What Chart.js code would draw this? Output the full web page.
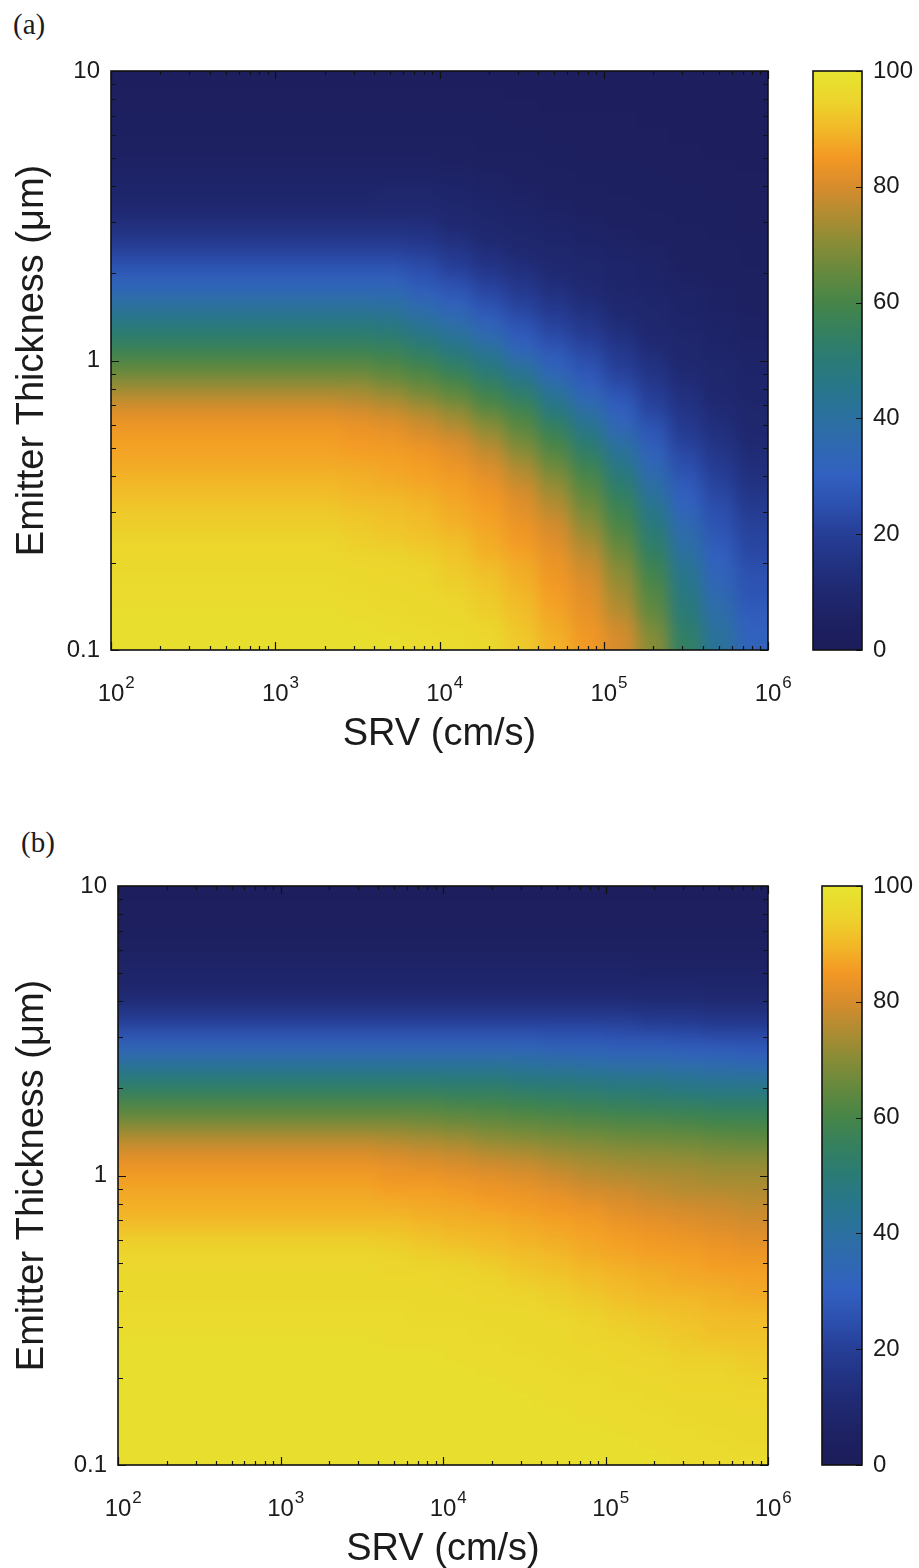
<!DOCTYPE html>
<html>
<head>
<meta charset="utf-8">
<script src="https://cdn.jsdelivr.net/npm/chart.js@4.4.1/dist/chart.umd.min.js"></script>
<style>
  html, body { margin: 0; padding: 0; background: #fff; }
  body { width: 919px; height: 1568px; position: relative; overflow: hidden; }
  canvas { position: absolute; }
  .tag { position: absolute; font-family: "Liberation Serif", "DejaVu Serif", serif; font-size: 29px; color: #1b1b1b; }
</style>
</head>
<body>
<div class="tag" style="left:13px; top:8px;">(a)</div>
<div class="tag" style="left:21px; top:826px;">(b)</div>
<canvas id="mapA" width="800" height="760" style="left:0; top:0;"></canvas>
<canvas id="barA" width="119" height="700" style="left:800px; top:0;"></canvas>
<canvas id="mapB" width="800" height="760" style="left:0; top:815px;"></canvas>
<canvas id="barB" width="119" height="700" style="left:800px; top:815px;"></canvas>
<script>
// SRV (cm/s) at the centre of each map column
const srvCentres = [126, 200, 316, 501, 794, 1259, 1995, 3162, 5012, 7943,
  12589, 19953, 31623, 50119, 79433, 125893, 199526, 316228, 501187, 794328];
// emitter thickness (um) at the centre of each map row, top to bottom
const thickCentres = [9.44, 8.41, 7.50, 6.68, 5.96, 5.31, 4.73, 4.22, 3.76, 3.35,
  2.99, 2.66, 2.37, 2.11, 1.88, 1.68, 1.50, 1.33, 1.19, 1.06,
  0.944, 0.841, 0.750, 0.668, 0.596, 0.531, 0.473, 0.422, 0.376, 0.335,
  0.299, 0.266, 0.237, 0.211, 0.188, 0.168, 0.150, 0.133, 0.119, 0.106];

const xTickValues = [1e2, 1e3, 1e4, 1e5, 1e6];
const yTickValues = [0.1, 1, 10];
const barTickValues = [0, 20, 40, 60, 80, 100];

// panel (a): one array per SRV column, values from thick (top) to thin (bottom)
const mapA = [
  [2,3,3,4,4,5,6,7,8,10,13,17,21,26,31,36,42,48,53,58,64,70,76,81,84,86,87,88,90,91,93,94,95,96,96,97,97,98,98,98],
  [2,3,3,4,4,5,6,7,8,10,13,17,21,26,31,36,42,48,53,58,64,70,76,81,84,86,87,88,90,91,93,94,95,96,96,97,97,98,98,98],
  [2,3,3,4,4,5,6,7,8,10,13,17,21,26,31,36,42,48,53,58,64,70,76,81,84,86,87,88,90,91,93,94,95,96,96,97,97,98,98,98],
  [2,3,3,4,4,5,6,7,8,10,13,17,21,26,31,36,42,48,53,58,64,70,76,81,84,86,87,88,90,91,93,94,95,96,96,97,97,98,98,98],
  [2,3,3,4,4,5,6,7,8,10,13,17,21,26,31,36,42,48,53,58,64,70,76,81,84,86,87,88,90,91,93,94,95,96,96,97,97,98,98,98],
  [2,3,3,4,4,5,6,7,8,10,13,17,21,26,31,36,42,48,53,58,64,70,76,81,84,86,87,88,90,91,93,94,95,96,96,97,97,98,98,98],
  [2,3,3,4,4,5,6,7,8,10,13,17,21,26,31,36,42,48,53,58,64,70,76,81,84,86,87,88,90,91,93,94,95,96,96,97,97,98,98,98],
  [2,3,3,4,4,5,6,7,8,10,13,17,21,26,31,36,42,48,53,58,64,70,75,80,83,85,86,88,89,90,92,93,94,95,96,96,97,97,98,98],
  [2,3,3,4,4,5,6,7,9,10,13,17,21,26,31,36,41,47,52,57,62,67,73,78,82,84,86,87,88,90,91,92,93,95,95,96,96,97,97,98],
  [2,3,3,4,4,5,6,7,9,10,13,16,20,24,27,32,37,42,48,53,59,64,69,75,79,82,85,86,87,89,90,91,92,94,95,95,96,96,97,97],
  [2,3,3,4,4,5,5,7,8,9,10,13,17,20,24,28,33,38,43,48,54,60,65,71,75,80,82,84,86,87,88,89,91,92,93,94,95,96,96,97],
  [2,3,3,4,4,4,5,6,7,8,9,10,13,16,20,23,27,32,37,43,48,54,59,64,70,74,78,81,83,85,86,87,88,89,91,92,93,94,95,96],
  [2,2,3,3,4,4,5,5,6,7,8,9,10,13,16,19,22,26,29,34,41,47,53,59,63,67,71,75,78,81,82,84,85,87,88,89,90,91,92,93],
  [2,2,2,3,3,4,4,5,5,6,7,8,9,10,12,15,18,21,24,28,31,37,43,48,54,59,63,67,71,74,77,80,81,83,84,85,86,87,88,89],
  [2,2,2,3,3,3,4,4,5,5,6,7,8,9,10,11,14,17,20,23,26,29,34,39,44,49,54,58,62,65,68,71,74,77,79,81,82,83,84,85],
  [2,2,2,3,3,3,4,4,4,5,5,6,7,8,8,9,10,12,15,18,20,23,27,30,34,38,43,47,51,55,58,61,64,67,70,72,74,76,79,80],
  [2,2,2,2,3,3,3,4,4,4,5,5,6,7,7,8,9,9,10,12,15,17,20,22,26,28,32,35,39,42,46,49,52,55,58,61,63,65,68,70],
  [2,2,2,2,2,3,3,3,4,4,4,5,5,5,6,7,7,8,9,9,10,12,14,16,18,20,23,25,28,30,33,36,38,41,44,46,48,50,52,54],
  [2,2,2,2,2,2,3,3,3,4,4,4,5,5,5,6,6,7,7,8,9,9,10,11,13,15,17,19,21,23,25,26,28,30,32,34,36,38,40,42],
  [2,2,2,2,2,2,2,3,3,3,3,4,4,4,5,5,5,6,6,7,7,8,8,9,9,10,12,13,15,17,19,21,22,23,25,26,27,29,30,32]
];

// panel (b): same layout as panel (a)
const mapB = [
  [2,3,3,4,5,7,8,10,15,21,28,35,43,50,57,63,69,76,81,84,86,88,89,91,94,95,96,96,96,97,97,98,98,98,98,98,98,98,98,98],
  [2,3,3,4,5,7,8,10,15,21,28,35,43,50,57,63,69,76,81,84,86,88,89,91,94,95,96,96,96,97,97,98,98,98,98,98,98,98,98,98],
  [2,3,3,4,5,7,8,10,15,21,28,35,43,50,57,63,69,76,81,84,86,88,89,91,94,95,96,96,96,97,97,98,98,98,98,98,98,98,98,98],
  [2,3,3,4,5,7,8,10,15,21,28,35,43,50,57,63,69,76,81,84,86,88,89,91,94,95,96,96,96,97,97,98,98,98,98,98,98,98,98,98],
  [2,3,3,4,5,7,8,10,15,21,28,35,43,50,57,63,69,76,81,84,86,88,89,91,94,95,96,96,96,97,97,98,98,98,98,98,98,98,98,98],
  [2,3,3,4,5,7,8,10,15,21,28,35,43,50,57,63,69,76,81,84,86,88,89,91,94,95,96,96,96,97,97,98,98,98,98,98,98,98,98,98],
  [2,3,3,4,5,7,8,10,15,21,28,35,43,50,57,63,69,76,81,84,86,88,89,91,94,95,96,96,96,97,97,98,98,98,98,98,98,98,98,98],
  [2,3,3,4,5,7,8,10,15,21,28,35,43,50,57,63,69,76,81,84,86,88,89,91,94,95,96,96,96,97,97,98,98,98,98,98,98,98,98,98],
  [2,3,3,4,5,7,8,10,15,21,28,35,43,50,57,63,69,75,80,83,85,87,89,91,93,95,95,96,96,97,97,97,98,98,98,98,98,98,98,98],
  [2,3,3,4,5,7,8,10,15,21,28,35,43,50,57,63,68,74,79,82,85,87,88,90,92,94,95,96,96,96,97,97,98,98,98,98,98,98,98,98],
  [2,3,3,4,5,7,8,10,15,21,28,35,43,50,56,62,67,73,78,81,84,86,88,89,91,93,95,95,96,96,97,97,97,98,98,98,98,98,98,98],
  [2,3,3,4,5,7,8,10,15,21,28,35,43,50,56,61,66,71,76,80,83,85,87,89,90,92,94,95,95,96,96,97,97,97,98,98,98,98,98,98],
  [2,3,3,4,5,7,8,10,15,21,28,35,42,48,55,60,65,70,75,79,82,84,86,88,89,91,92,94,95,96,96,96,97,97,97,98,98,98,98,98],
  [2,3,3,4,5,7,8,10,15,21,27,34,41,48,54,59,64,69,73,77,80,83,85,87,88,90,91,93,94,95,96,96,96,97,97,97,98,98,98,98],
  [2,3,3,4,5,7,8,10,15,21,27,33,40,47,53,58,63,68,72,75,78,81,84,86,87,88,90,91,93,94,95,95,96,96,97,97,97,98,98,98],
  [2,3,3,4,5,7,8,10,15,21,26,32,39,46,52,57,62,67,71,74,77,80,82,84,86,87,89,90,91,93,94,95,95,96,96,97,97,97,98,98],
  [2,3,3,4,5,6,8,10,14,19,26,32,39,46,51,56,62,66,71,73,76,78,81,83,85,86,88,89,90,92,93,94,95,95,96,96,97,97,97,98],
  [2,3,3,4,5,6,8,10,14,19,25,31,38,44,50,56,61,66,70,73,75,77,80,82,84,86,87,88,90,91,92,93,94,95,95,96,96,97,97,97],
  [2,3,3,4,5,6,8,9,13,18,24,31,37,43,49,55,60,65,69,72,74,77,79,81,83,85,86,88,89,90,91,92,94,95,95,96,96,96,97,97],
  [2,3,3,4,5,6,8,9,13,18,24,29,36,43,49,55,60,64,69,72,74,76,78,80,82,84,86,87,88,90,91,92,93,94,95,95,96,96,96,97]
];

// colour scale of the figure (value, rgb)
const cmapStops = [
  [0, [28, 28, 90]], [5, [29, 33, 98]], [10, [31, 40, 112]], [15, [34, 50, 130]],
  [20, [38, 62, 150]], [25, [44, 80, 175]], [30, [50, 96, 192]], [35, [47, 104, 178]],
  [40, [43, 112, 160]], [45, [40, 118, 140]], [50, [42, 123, 118]], [55, [52, 128, 95]],
  [60, [70, 133, 72]], [65, [100, 137, 62]], [70, [135, 140, 55]], [75, [175, 140, 50]],
  [80, [215, 140, 45]], [85, [243, 152, 36]], [90, [242, 185, 40]], [95, [236, 213, 44]],
  [100, [230, 228, 48]]
];

const textColor = '#1b1b1b';
const sansFont = '"Liberation Sans", Arial, Helvetica, sans-serif';

function colourFor(v) {
    for (let i = 1; i < cmapStops.length; i++) {
        const [v1, c1] = cmapStops[i];
        const [v0, c0] = cmapStops[i - 1];
        if (v <= v1) {
            const f = (v - v0) / (v1 - v0);
            const c = c0.map((a, k) => Math.round(a + (c1[k] - a) * f));
            return `rgb(${c[0]},${c[1]},${c[2]})`;
        }
    }
    const c = cmapStops[cmapStops.length - 1][1];
    return `rgb(${c[0]},${c[1]},${c[2]})`;
}

// pixel bounds of each cell around its centre, taken from the scale;
// the outer cells are stretched past the plot edge so the soft edge stays full colour
function cellBounds(scale, centres, lo, hi) {
    const px = centres.map(v => scale.getPixelForValue(v));
    return px.map((p, i) => {
        const prev = i > 0 ? px[i - 1] : null;
        const next = i < px.length - 1 ? px[i + 1] : null;
        let a = prev === null ? lo : (prev + p) / 2;
        let b = next === null ? hi : (p + next) / 2;
        return [Math.round(Math.min(a, b)), Math.round(Math.max(a, b))];
    });
}

// minor tick positions, 1..9 per decade
function decadeSteps(fromExp, toExp) {
    const out = [];
    for (let d = fromExp; d < toExp; d++) {
        for (let m = 1; m <= 9; m++) out.push(m * Math.pow(10, d));
    }
    out.push(Math.pow(10, toExp));
    return out;
}

function heatmapPlugin(values) {
    return {
        id: 'heatmap',
        beforeDatasetsDraw(chart) {
            const { ctx, chartArea: a, scales } = chart;
            const xb = cellBounds(scales.x, srvCentres, a.left - 40, a.right + 40);
            const yb = cellBounds(scales.y, thickCentres, a.top - 40, a.bottom + 40);
            const off = document.createElement('canvas');
            off.width = chart.width;
            off.height = chart.height;
            const octx = off.getContext('2d');
            values.forEach((col, i) => {
                col.forEach((v, j) => {
                    octx.fillStyle = colourFor(v);
                    octx.fillRect(xb[i][0], yb[j][0], xb[i][1] - xb[i][0], yb[j][1] - yb[j][0]);
                });
            });
            ctx.save();
            ctx.beginPath();
            ctx.rect(a.left, a.top, a.right - a.left, a.bottom - a.top);
            ctx.clip();
            ctx.filter = 'blur(8px)';
            ctx.drawImage(off, 0, 0);
            ctx.restore();
        },
        afterDraw(chart) {
            const { ctx, chartArea: a, scales } = chart;
            ctx.save();
            ctx.strokeStyle = '#111';
            ctx.lineWidth = 1.2;
            ctx.beginPath();
            decadeSteps(2, 6).forEach(v => {
                const x = Math.round(scales.x.getPixelForValue(v)) + 0.5;
                const len = xTickValues.includes(v) ? 8 : 4;
                ctx.moveTo(x, a.bottom); ctx.lineTo(x, a.bottom - len);
                ctx.moveTo(x, a.top); ctx.lineTo(x, a.top + len);
            });
            decadeSteps(-1, 1).forEach(v => {
                const y = Math.round(scales.y.getPixelForValue(v)) + 0.5;
                const len = yTickValues.includes(v) ? 8 : 5;
                ctx.moveTo(a.left, y); ctx.lineTo(a.left + len, y);
                ctx.moveTo(a.right, y); ctx.lineTo(a.right - len, y);
            });
            ctx.stroke();
            ctx.lineWidth = 1.6;
            ctx.strokeRect(a.left, a.top, a.right - a.left, a.bottom - a.top);

            // x tick labels as 10 with a raised exponent
            ctx.fillStyle = textColor;
            ctx.textBaseline = 'alphabetic';
            ctx.textAlign = 'left';
            xTickValues.forEach(v => {
                const x = scales.x.getPixelForValue(v);
                const exp = String(Math.round(Math.log10(v)));
                ctx.font = `24px ${sansFont}`;
                const w = ctx.measureText('10').width;
                ctx.fillText('10', x - w / 2, a.bottom + 51);
                ctx.font = `17px ${sansFont}`;
                ctx.fillText(exp, x + w / 2 + 1, a.bottom + 38);
            });
            ctx.restore();
        }
    };
}

const colourbarPlugin = {
    id: 'colourbar',
    beforeDatasetsDraw(chart) {
        const { ctx, chartArea: a, scales } = chart;
        const y0 = scales.y.getPixelForValue(0);
        const y1 = scales.y.getPixelForValue(100);
        const grad = ctx.createLinearGradient(0, y0, 0, y1);
        cmapStops.forEach(([v]) => grad.addColorStop(v / 100, colourFor(v)));
        ctx.save();
        ctx.fillStyle = grad;
        ctx.fillRect(a.left, a.top, a.right - a.left, a.bottom - a.top);
        ctx.strokeStyle = '#111';
        ctx.lineWidth = 1.2;
        ctx.beginPath();
        barTickValues.forEach(v => {
            const y = Math.round(scales.y.getPixelForValue(v)) + 0.5;
            ctx.moveTo(a.right, y); ctx.lineTo(a.right - 6, y);
        });
        ctx.stroke();
        ctx.lineWidth = 1.6;
        ctx.strokeRect(a.left, a.top, a.right - a.left, a.bottom - a.top);
        ctx.restore();
    }
};

function buildMap(canvasId, values, axisWidth) {
    return new Chart(document.getElementById(canvasId), {
        type: 'scatter',
        data: { datasets: [] },
        options: {
            responsive: false,
            animation: false,
            layout: { padding: { top: 71, right: 32, left: 0, bottom: 0 } },
            plugins: { legend: { display: false }, tooltip: { enabled: false } },
            scales: {
                x: {
                    type: 'logarithmic',
                    min: 1e2,
                    max: 1e6,
                    afterBuildTicks: s => { s.ticks = xTickValues.map(v => ({ value: v })); },
                    afterFit: s => { s.height = 110; },
                    grid: { display: false, drawTicks: false },
                    border: { display: false },
                    ticks: { display: false },
                    title: {
                        display: true,
                        text: 'SRV (cm/s)',
                        color: textColor,
                        font: { family: sansFont, size: 38 },
                        padding: { top: 0, bottom: 3 }
                    }
                },
                y: {
                    type: 'logarithmic',
                    min: 0.1,
                    max: 10,
                    afterBuildTicks: s => { s.ticks = yTickValues.map(v => ({ value: v })); },
                    afterFit: s => { s.width = axisWidth; },
                    grid: { display: false, drawTicks: false },
                    border: { display: false },
                    ticks: {
                        autoSkip: false,
                        padding: 11,
                        color: textColor,
                        font: { family: sansFont, size: 24 },
                        callback: v => String(v)
                    },
                    title: {
                        display: true,
                        text: 'Emitter Thickness (\u03bcm)',
                        color: textColor,
                        font: { family: sansFont, size: 38 },
                        padding: { top: 10, bottom: 0 }
                    }
                }
            }
        },
        plugins: [heatmapPlugin(values)]
    });
}

function buildBar(canvasId, leftPad) {
    return new Chart(document.getElementById(canvasId), {
        type: 'bar',
        data: { labels: [''], datasets: [] },
        options: {
            responsive: false,
            animation: false,
            layout: { padding: { top: 71, right: 0, left: leftPad, bottom: 50 } },
            plugins: { legend: { display: false }, tooltip: { enabled: false } },
            scales: {
                x: { display: false },
                y: {
                    position: 'right',
                    min: 0,
                    max: 100,
                    afterBuildTicks: s => { s.ticks = barTickValues.map(v => ({ value: v })); },
                    afterFit: s => { s.width = 57; },
                    grid: { display: false, drawTicks: false },
                    border: { display: false },
                    ticks: {
                        padding: 11,
                        color: textColor,
                        font: { family: sansFont, size: 24 }
                    }
                }
            }
        },
        plugins: [colourbarPlugin]
    });
}

buildMap('mapA', mapA, 111);
buildBar('barA', 13);
buildMap('mapB', mapB, 118);
buildBar('barB', 22);
</script>
</body>
</html>
